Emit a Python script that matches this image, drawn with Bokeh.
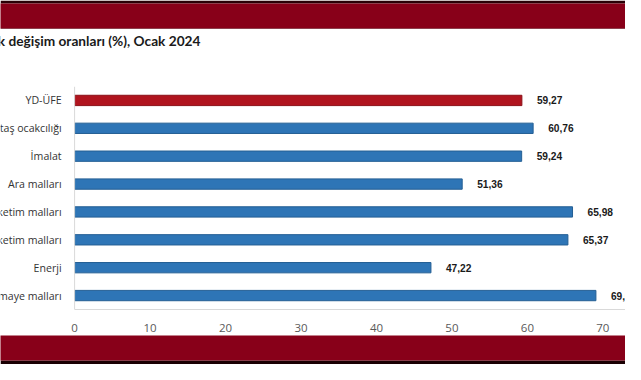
from bokeh.plotting import figure
from bokeh.models import Range1d, FixedTicker, ColumnDataSource, Label, Span
from bokeh.layouts import column
from bokeh.core.properties import value
from bokeh.embed import file_html
from bokeh.resources import INLINE

# ---- data (visible part of the reference) ----
categories = ["YD-ÜFE", "taş ocakcılığı", "İmalat", "Ara malları",
              "ketim malları", "ketim malları", "Enerji", "maye malları"]
values = [59.27, 60.76, 59.24, 51.36, 65.98, 65.37, 47.22, 69.08]
x_ticks = [0, 10, 20, 30, 40, 50, 60, 70]
title_text = "k değişim oranları (%), Ocak 2024"

RED_BAND = "#880019"
BAR_RED = "#b0141e"
BAR_BLUE = "#2e75b6"
W = 625

def blank(fig):
    fig.axis.visible = False
    fig.grid.visible = False
    fig.outline_line_color = None
    fig.toolbar.logo = None

# ---- header band ----
band_top = figure(width=W, height=29, output_backend="svg", toolbar_location=None,
                  x_range=Range1d(0, 1), y_range=Range1d(0, 1),
                  min_border_left=0, min_border_right=0, min_border_top=3,
                  min_border_bottom=1, title=None)
blank(band_top)
band_top.background_fill_color = RED_BAND
band_top.border_fill_color = "#2a0006"

# ---- title ----
tfig = figure(width=W, height=57, output_backend="svg", toolbar_location=None,
              x_range=Range1d(0, W), y_range=Range1d(0, 57),
              min_border=0, title=None)
blank(tfig)
tfig.add_layout(Label(x=200, y=46, text=title_text, text_align="right",
                      text_baseline="middle", text_font="Lato",
                      text_font_style="bold", text_font_size="13.7px",
                      text_color="#1a1a1a"))

# ---- main chart ----
n = len(categories)
ys = list(range(n - 1, -1, -1))
colors = [BAR_RED] + [BAR_BLUE] * (n - 1)
edges = ["#8c1018"] + ["#245f94"] * (n - 1)
src = ColumnDataSource(dict(
    y=ys, v=values, cat=categories, color=colors, edge=edges,
    zero=[0] * n,
    lbl=[f"{v:.2f}".replace(".", ",") for v in values],
))

p = figure(width=W, height=249, output_backend="svg", toolbar_location=None,
           x_range=Range1d(-9.82, 73.0), y_range=Range1d(-0.5, n - 0.5),
           min_border_left=0, min_border_right=0, min_border_top=0,
           min_border_bottom=26, title=None)
p.toolbar.logo = None
p.hbar(y="y", right="v", left=0, height=0.37, fill_color="color",
       line_color="edge", line_width=1, source=src)

p.grid.visible = False
p.outline_line_color = None
p.yaxis.visible = False

p.xaxis.ticker = FixedTicker(ticks=x_ticks)
p.xaxis.bounds = (0, 73.0)
p.xaxis.axis_line_color = "#d9d9d9"
p.xaxis.major_tick_line_color = None
p.xaxis.minor_tick_line_color = None
p.xaxis.major_label_standoff = 8
p.xaxis.major_label_text_font = "Open Sans"
p.xaxis.major_label_text_font_size = "11.5px"
p.xaxis.major_label_text_color = "#595959"

# vertical axis line at x = 0
p.add_layout(Span(location=0, dimension="height", line_color="#d9d9d9", line_width=1))

# category labels (left of the value axis origin)
p.text(x="zero", y="y", text="cat", source=src, x_offset=-13,
       text_align="right", text_baseline="middle",
       text_font=value("Open Sans"), text_font_size="10.6px",
       text_color="#333333")

# value labels
p.text(x="v", y="y", text="lbl", source=src, x_offset=15,
       text_align="left", text_baseline="middle",
       text_font=value("Liberation Sans"), text_font_style="bold",
       text_font_size="10.2px", text_color="#1a1a1a")

# ---- footer band ----
band_bot = figure(width=W, height=29, output_backend="svg", toolbar_location=None,
                  x_range=Range1d(0, 1), y_range=Range1d(0, 1),
                  min_border_left=0, min_border_right=0, min_border_top=0,
                  min_border_bottom=4, title=None)
blank(band_bot)
band_bot.background_fill_color = RED_BAND
band_bot.border_fill_color = "#1a0003"

layout = column(band_top, tfig, p, band_bot, spacing=0)
open("out.html", "w").write(file_html(layout, INLINE))
